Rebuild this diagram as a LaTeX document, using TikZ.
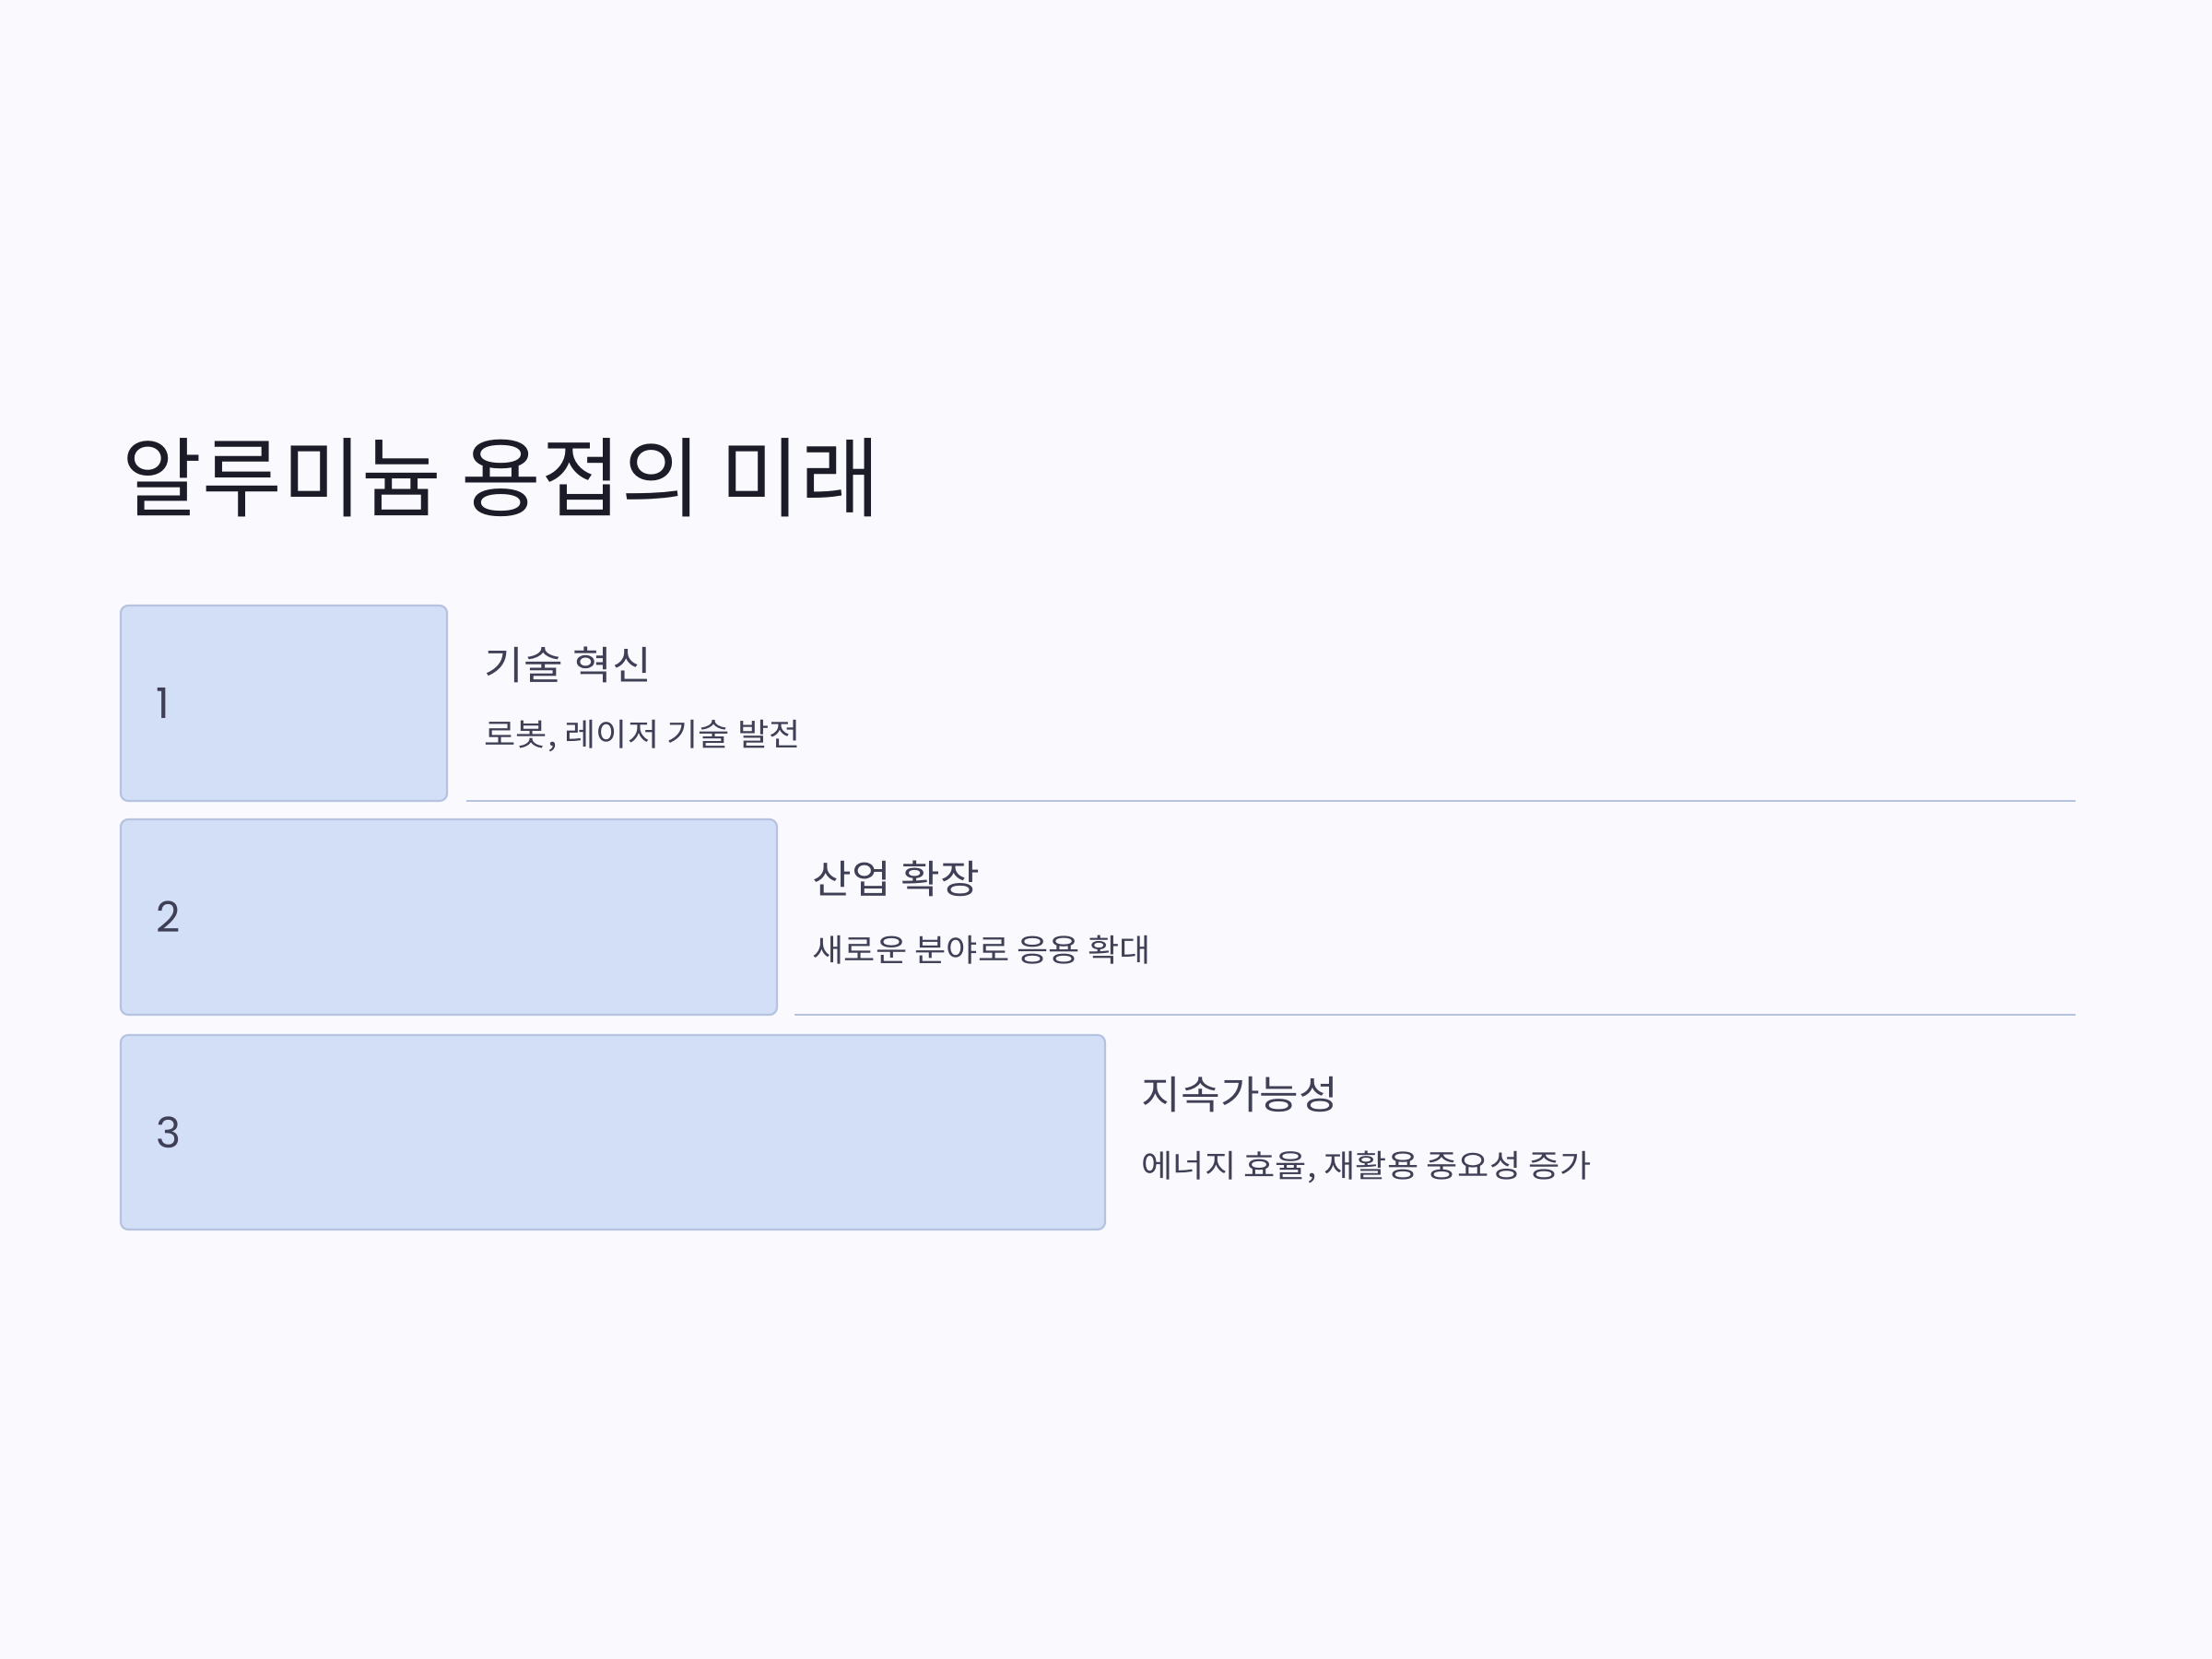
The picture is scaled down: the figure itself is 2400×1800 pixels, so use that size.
\documentclass[tikz,border=0pt]{standalone}
\usepackage{fontspec}
\newfontfamily\kr{Noto Sans CJK KR}
\newfontfamily\krw[FakeStretch=1.09]{Noto Sans CJK KR}
\newfontfamily\numfont{Poppins}
\definecolor{bg}{HTML}{F9F9FE}
\definecolor{boxfill}{HTML}{D3DEF7}
\definecolor{boxline}{HTML}{B5C3E0}
\definecolor{titlecol}{HTML}{1C1C28}
\definecolor{textcol}{HTML}{3F3F56}
\begin{document}
\begin{tikzpicture}[x=0.01cm,y=-0.01cm,
  stepbox/.style={draw=boxline,line width=0.6pt,fill=boxfill,rounded corners=0.08cm},
  sepline/.style={draw=boxline,line width=0.6pt},
  numlabel/.style={anchor=base west,inner sep=0pt,text=textcol,font=\numfont\fontsize{13}{15}\selectfont},
  headlabel/.style={anchor=base west,inner sep=0pt,text=textcol,font=\krw\fontsize{12.1}{14}\selectfont},
  sublabel/.style={anchor=base west,inner sep=0pt,text=textcol,font=\krw\fontsize{9.7}{12}\selectfont},
  titlelabel/.style={anchor=base west,inner sep=0pt,text=titlecol,font=\kr\fontsize{26.8}{32}\selectfont}]
\fill[bg] (0,0) rectangle (2400,1800);
\useasboundingbox (0,0) rectangle (2400,1800);
\node[titlelabel] (title) at (132,553) {알루미늄 용접의 미래};
% boxes
\draw[stepbox] (131,657) rectangle (485,869);
\draw[stepbox] (131,889) rectangle (843,1101);
\draw[stepbox] (131,1123) rectangle (1199,1334);
\node[numlabel] (n1) at (169,779) {1};
\node[numlabel] (n2) at (169,1011) {2};
\node[numlabel] (n3) at (169,1245) {3};
\node[headlabel] (h1) at (525,737) {기술 혁신};
\node[sublabel] (s1) at (525,809) {로봇, 레이저 기술 발전};
\node[headlabel] (h2) at (881,969) {산업 확장};
\node[sublabel] (s2) at (881,1043) {새로운 분야로 응용 확대};
\node[headlabel] (h3) at (1238,1203) {지속가능성};
\node[sublabel] (s3) at (1238,1277) {에너지 효율, 재활용 중요성 증가};
\coordinate (l1a) at (506,869);
\coordinate (l1b) at (2252,869);
\coordinate (l2a) at (862,1101);
\coordinate (l2b) at (2252,1101);
\draw[sepline] (l1a) -- (l1b);
\draw[sepline] (l2a) -- (l2b);
\end{tikzpicture}
\end{document}
